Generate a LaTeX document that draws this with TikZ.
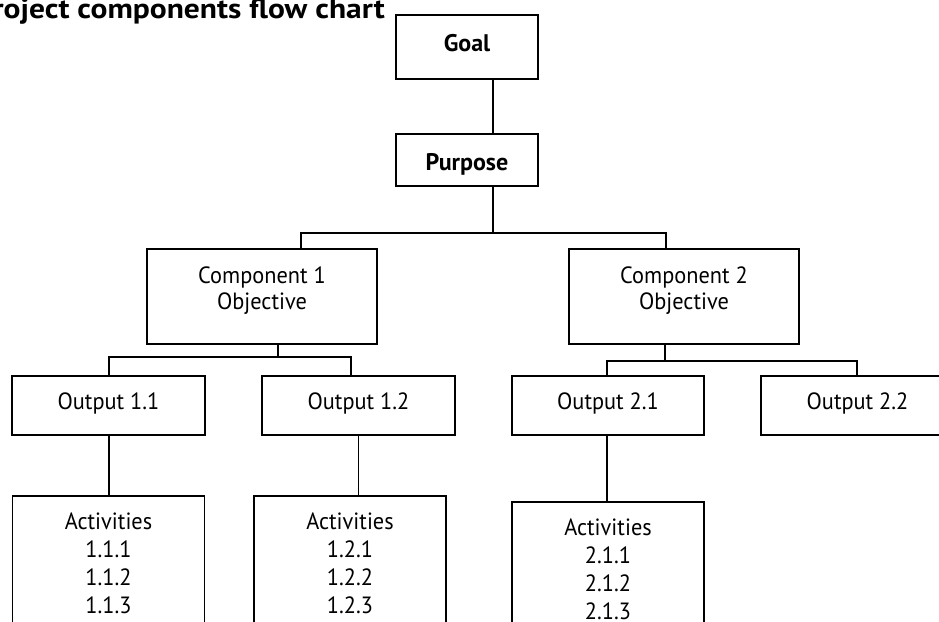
\documentclass[tikz,border=0pt]{standalone}
\usepackage{fontspec}
\setmainfont{PT Sans}
\newfontfamily\bodyfont{PT Sans}[FakeStretch=0.95]
\newfontfamily\titlefont{PT Sans}[FakeStretch=1.125]
\begin{document}
\begin{tikzpicture}[x=1pt,y=-1pt,
  box/.style={draw, rectangle, line width=1.8pt, inner sep=0pt,
    font=\bodyfont\fontsize{23.5}{26}\selectfont},
  boldbox/.style={box, font=\bfseries\fontsize{24}{28}\selectfont},
  outbox/.style={box, minimum width=193pt, minimum height=59pt,
    text height=7.6pt, text depth=0pt},
  compbox/.style={box, minimum width=230pt, minimum height=95pt,
    text height=0pt, text depth=27pt},
  actbox/.style={box, font=\bodyfont\fontsize{23.5}{28}\selectfont,
    minimum width=192pt, minimum height=140pt,
    text height=0pt, text depth=74pt},
  link/.style={line width=1.1pt}]
\useasboundingbox (0,0) rectangle (939,621);
\clip (0,0) rectangle (939,621);

% title
\node[anchor=base east, inner sep=0pt, font=\titlefont\bfseries\fontsize{28}{32}\selectfont]
  (title) at (385,18) {Project components flow chart};

% top levels
\node[boldbox, minimum width=142pt, minimum height=64pt,
  text height=9.4pt, text depth=0pt] (goal) at (467,47) {Goal};
\node[boldbox, minimum width=142pt, minimum height=52pt,
  text height=21.4pt, text depth=0pt] (purpose) at (467,160) {Purpose};

% components
\node[compbox] (c1) at (262,296.5)
  {\begin{tabular}[t]{@{}c@{}}Component 1\\Objective\end{tabular}};
\node[compbox] (c2) at (684,296.5)
  {\begin{tabular}[t]{@{}c@{}}Component 2\\Objective\end{tabular}};

% outputs
\node[outbox] (o11) at (108.5,405.5) {Output 1.1};
\node[outbox] (o12) at (358.5,405.5) {Output 1.2};
\node[outbox, minimum width=192pt] (o21) at (608,405.5) {Output 2.1};
\node[outbox] (o22) at (857.5,405.5) {Output 2.2};

% activities
\node[actbox] (a11) at (108.5,566)
  {\begin{tabular}[t]{@{}c@{}}Activities\\1.1.1\\1.1.2\\1.1.3\end{tabular}};
\node[actbox] (a12) at (350,566)
  {\begin{tabular}[t]{@{}c@{}}Activities\\1.2.1\\1.2.2\\1.2.3\end{tabular}};
\node[actbox] (a21) at (608,572)
  {\begin{tabular}[t]{@{}c@{}}Activities\\2.1.1\\2.1.2\\2.1.3\end{tabular}};

% junction points of the connectors
\coordinate (hub) at (493,233);
\coordinate (h1) at (301,233);
\coordinate (h2) at (666,233);
\coordinate (k1) at (278,357);
\coordinate (k1l) at (109,357);
\coordinate (k1r) at (351,357);
\coordinate (k2) at (665,361);
\coordinate (k2l) at (607,361);
\coordinate (k2r) at (857,361);

% connectors
\draw[link] (goal.south -| hub) -- (purpose.north -| hub);
\draw[link] (purpose.south -| hub) -- (hub);
\draw[link] (c1.north -| h1) -- (h1) -- (h2) -- (c2.north -| h2);

\draw[link] (c1.south -| k1) -- (k1);
\draw[link] (o11.north -| k1l) -- (k1l) -- (k1r) -- (o12.north -| k1r);
\draw[link] (c2.south -| k2) -- (k2);
\draw[link] (o21.north -| k2l) -- (k2l) -- (k2r) -- (o22.north -| k2r);

\draw[link] (o11.south -| k1l) -- (a11.north -| k1l);
\draw[link] (o12.south) -- (o12.south |- a12.north);
\draw[link] (o21.south -| k2l) -- (a21.north -| k2l);
\end{tikzpicture}
\end{document}
